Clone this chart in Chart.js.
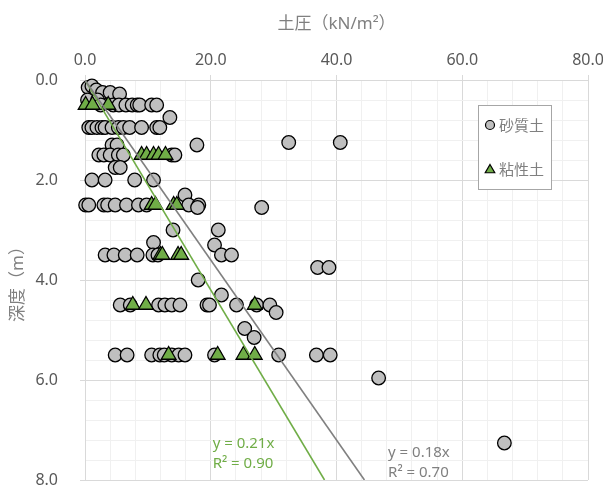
<!DOCTYPE html>
<html>
<head>
<meta charset="utf-8">
<script src="https://cdn.jsdelivr.net/npm/chart.js@4.4.1/dist/chart.umd.min.js"></script>
<style>
    html, body { margin: 0; padding: 0; background: #ffffff; overflow: hidden; }
    canvas { display: block; }
</style>
</head>
<body>
<canvas id="soilChart" width="603" height="485"></canvas>
<script>
// 砂質土 (土圧 kN/m2, 深度 m)
var sandPressure = [
    0.5, 1.1, 1.8, 2.8, 4.0, 5.5, 0.4, 2.0,
    2.5, 4.5, 5.4, 6.5, 7.5, 8.3, 8.7, 10.6, 11.4, 13.5,
    0.6, 1.1, 1.9, 2.7, 3.2, 4.3, 5.3, 6.1, 7.1, 9.0, 11.4, 11.9,
    32.4, 40.6, 4.3, 5.1, 17.8,
    2.2, 3.0, 4.0, 5.3, 6.1, 13.8, 14.3, 4.8, 5.6,
    1.1, 3.2, 7.9, 10.9, 15.9,
    0.1, 0.6, 3.0, 3.6, 4.8, 6.6, 8.5, 9.8, 16.5, 18.1, 17.9, 28.1,
    14.0, 21.2, 10.9, 20.6,
    3.2, 4.6, 6.4, 8.3, 10.8, 11.6, 21.7, 23.3, 37.0, 38.8,
    18.0, 21.7,
    5.6, 7.2, 11.7, 12.7, 13.8, 15.1, 19.4, 19.8, 24.1, 27.3, 29.4, 30.4,
    25.4, 26.9,
    4.8, 6.7, 10.6, 11.9, 12.6, 13.8, 14.9, 15.9, 20.6, 30.8, 36.8, 39.0,
    46.7, 66.7
];
var sandDepth = [
    0.15, 0.12, 0.2, 0.25, 0.25, 0.28, 0.4, 0.4,
    0.5, 0.5, 0.5, 0.5, 0.5, 0.5, 0.5, 0.5, 0.5, 0.75,
    0.95, 0.95, 0.95, 0.95, 0.95, 0.95, 0.95, 0.95, 0.95, 0.95, 0.95, 0.95,
    1.25, 1.25, 1.3, 1.3, 1.3,
    1.5, 1.5, 1.5, 1.5, 1.5, 1.5, 1.5, 1.75, 1.75,
    2.0, 2.0, 2.0, 2.0, 2.3,
    2.5, 2.5, 2.5, 2.5, 2.5, 2.5, 2.5, 2.5, 2.5, 2.5, 2.55, 2.55,
    3.0, 3.0, 3.25, 3.3,
    3.5, 3.5, 3.5, 3.5, 3.5, 3.5, 3.5, 3.5, 3.75, 3.75,
    4.0, 4.3,
    4.5, 4.5, 4.5, 4.5, 4.5, 4.5, 4.5, 4.5, 4.5, 4.5, 4.5, 4.65,
    4.97, 5.15,
    5.5, 5.5, 5.5, 5.5, 5.5, 5.5, 5.5, 5.5, 5.5, 5.5, 5.5, 5.5,
    5.96, 7.26
];

// 粘性土
var clayPressure = [
    0.1, 1.2, 3.7,
    9.0, 9.8, 10.9, 11.7, 12.8,
    10.6, 11.2, 14.1, 14.6,
    12.0, 12.3, 14.8, 15.3,
    7.6, 9.7, 27.0,
    13.3, 21.1, 25.2, 27.0
];
var clayDepth = [
    0.5, 0.5, 0.5,
    1.5, 1.5, 1.5, 1.5, 1.5,
    2.5, 2.5, 2.5, 2.5,
    3.5, 3.5, 3.5, 3.5,
    4.5, 4.5, 4.5,
    5.5, 5.5, 5.5, 5.5
];

// 近似直線 (原点通過) と R2
var seriesNames = ['砂質土', '粘性土'];
var trendSlope = [0.18, 0.21];
var trendR2 = ['0.70', '0.90'];
// 近似式ラベルの位置 (土圧, 深度)
var trendLabelAt = [[48.2, 7.46], [20.3, 7.27]];

var xTicks = [0, 20, 40, 60, 80];
var yTicks = [0, 2, 4, 6, 8];

var SAND_COLOR = '#bfbfbf';
var CLAY_COLOR = '#70ad47';
var SAND_LINE = '#808080';
var TEXT_COLOR = '#595959';
var TITLE_COLOR = '#808080';
var MAJOR_GRID = '#d9d9d9';
var MINOR_GRID = '#f0f0f0';
var LATIN_FONT = "'Noto Sans', 'Noto Sans CJK JP', sans-serif";
var CJK_FONT = "'Noto Sans CJK JP', 'Noto Sans', sans-serif";

function _toPoints(xs, ys){
    var pts = [];
    for(var i = 0; i < xs.length; i++){
        pts.push({x: xs[i], y: ys[i]});
    }
    return pts;
}

function _trendPoints(slope){
    var maxDepth = yTicks[yTicks.length - 1];
    return [{x: 0, y: 0}, {x: maxDepth / slope, y: maxDepth}];
}

function _isMajor(value, list){
    for(var i = 0; i < list.length; i++){
        if(Math.abs(value - list[i]) < 1e-6) return true;
    }
    return false;
}

// 凡例 (プロット内の枠付き)
var legendBox = {
    id: 'legendBox',
    afterDraw: function(chart){
        var ctx = chart.ctx;
        var area = chart.chartArea;
        var left = area.right - 110, top = area.top + 25;
        var w = 73, h = 84;
        ctx.save();
        ctx.fillStyle = '#ffffff';
        ctx.fillRect(left, top, w, h);
        ctx.strokeStyle = '#a6a6a6';
        ctx.lineWidth = 1;
        ctx.strokeRect(left + 0.5, top + 0.5, w, h);

        var items = [chart.data.datasets[2], chart.data.datasets[3]];
        for(var i = 0; i < items.length; i++){
            var ds = items[i];
            var cy = top + 20 + i * 44;
            ctx.fillStyle = ds.backgroundColor;
            ctx.strokeStyle = ds.borderColor;
            ctx.lineWidth = 1.2;
            Chart.helpers.drawPoint(ctx, {
                pointStyle: ds.pointStyle,
                radius: ds.pointStyle === 'triangle' ? 5.5 : 4.5,
                borderWidth: 1.2
            }, left + 12, cy + (ds.pointStyle === 'triangle' ? 1 : 0));
            ctx.fillStyle = TITLE_COLOR;
            ctx.font = '15px ' + CJK_FONT;
            ctx.textBaseline = 'middle';
            ctx.textAlign = 'left';
            ctx.fillText(ds.label, left + 21, cy);
        }
        ctx.restore();
    }
};

// 近似式のラベル
var trendLabels = {
    id: 'trendLabels',
    afterDraw: function(chart){
        var ctx = chart.ctx;
        var xs = chart.scales.x, ys = chart.scales.y;
        var colors = [SAND_LINE, CLAY_COLOR];
        ctx.save();
        ctx.font = '15px ' + LATIN_FONT;
        ctx.textAlign = 'left';
        ctx.textBaseline = 'middle';
        for(var i = 0; i < trendSlope.length; i++){
            var px = xs.getPixelForValue(trendLabelAt[i][0]);
            var py = ys.getPixelForValue(trendLabelAt[i][1]);
            ctx.fillStyle = colors[i];
            ctx.fillText('y = ' + trendSlope[i].toFixed(2) + 'x', px, py);
            ctx.fillText('R² = ' + trendR2[i], px, py + 20);
        }
        ctx.restore();
    }
};

var config = {
    type: 'scatter',
    data: {
        datasets: [{
            type: 'line',
            label: '線形 (' + seriesNames[0] + ')',
            data: _trendPoints(trendSlope[0]),
            borderColor: SAND_LINE,
            borderWidth: 1.6,
            pointRadius: 0,
            fill: false,
            order: 0
        }, {
            type: 'line',
            label: '線形 (' + seriesNames[1] + ')',
            data: _trendPoints(trendSlope[1]),
            borderColor: CLAY_COLOR,
            borderWidth: 1.6,
            pointRadius: 0,
            fill: false,
            order: 0
        }, {
            label: seriesNames[0],
            data: _toPoints(sandPressure, sandDepth),
            pointStyle: 'circle',
            pointRadius: 6.8,
            pointBorderWidth: 1.3,
            backgroundColor: SAND_COLOR,
            borderColor: '#000000',
            clip: false,
            order: 2
        }, {
            label: seriesNames[1],
            data: _toPoints(clayPressure, clayDepth),
            pointStyle: 'triangle',
            pointRadius: 8.5,
            pointBorderWidth: 1.3,
            backgroundColor: CLAY_COLOR,
            borderColor: '#000000',
            clip: false,
            order: 1
        }]
    },
    options: {
        responsive: false,
        animation: false,
        layout: {
            autoPadding: false,
            padding: { left: 0, right: 15, top: 0, bottom: 5 }
        },
        plugins: {
            legend: { display: false },
            tooltip: { enabled: false }
        },
        scales: {
            x: {
                type: 'linear',
                position: 'top',
                min: 0,
                max: 80,
                afterFit: function(scale){
                    // 軸の高さは固定、端のラベル分の余白は取らない
                    scale.height = 80;
                    scale.paddingLeft = 0;
                    scale.paddingRight = 0;
                },
                ticks: {
                    stepSize: 4,
                    autoSkip: false,
                    maxRotation: 0,
                    padding: 5,
                    color: TEXT_COLOR,
                    font: { family: LATIN_FONT, size: 16 },
                    callback: function(v){ return _isMajor(v, xTicks) ? v.toFixed(1) : ''; }
                },
                grid: {
                    tickLength: 5,
                    color: function(c){ return _isMajor(c.tick.value, xTicks) ? MAJOR_GRID : MINOR_GRID; },
                    tickColor: function(c){ return _isMajor(c.tick.value, xTicks) ? MAJOR_GRID : 'rgba(0,0,0,0)'; }
                },
                border: { color: MAJOR_GRID },
                title: {
                    display: true,
                    text: '土圧（kN/m²）',
                    color: TITLE_COLOR,
                    font: { family: LATIN_FONT, size: 17 },
                    padding: { top: 14, bottom: 6 }
                }
            },
            y: {
                type: 'linear',
                reverse: true,
                min: 0,
                max: 8,
                afterFit: function(scale){
                    scale.width = 85;
                    scale.paddingTop = 0;
                    scale.paddingBottom = 0;
                },
                ticks: {
                    stepSize: 0.4,
                    autoSkip: false,
                    padding: 22,
                    color: TEXT_COLOR,
                    font: { family: LATIN_FONT, size: 16 },
                    callback: function(v){ return _isMajor(v, yTicks) ? v.toFixed(1) : ''; }
                },
                grid: {
                    tickLength: 5,
                    color: function(c){ return _isMajor(c.tick.value, yTicks) ? MAJOR_GRID : MINOR_GRID; },
                    tickColor: function(c){ return _isMajor(c.tick.value, yTicks) ? MAJOR_GRID : 'rgba(0,0,0,0)'; }
                },
                border: { color: MAJOR_GRID },
                title: {
                    display: true,
                    text: '深度（m）',
                    color: TITLE_COLOR,
                    font: { family: LATIN_FONT, size: 17 },
                    padding: { top: 8, bottom: 0 }
                }
            }
        }
    },
    plugins: [trendLabels, legendBox]
};

var soilChart = new Chart(document.getElementById('soilChart'), config);
</script>
</body>
</html>
